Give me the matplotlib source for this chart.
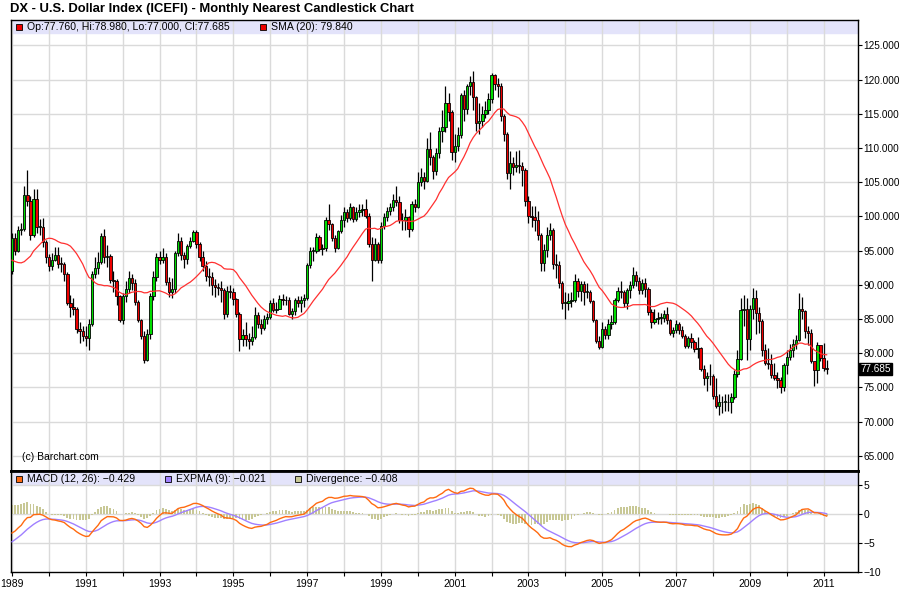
import numpy as np
import matplotlib.pyplot as plt

# monthly history before Jan 1989, only used to seed the SMA / MACD
warmup_close = [
    150.0, 156.0, 146.0, 143.0, 145.0, 141.0, 133.0, 131.0, 125.0, 122.0, 120.0, 118.0,
    115.0, 110.0, 110.0, 106.0, 109.0, 106.0, 102.0, 101.0, 101.0, 101.5, 102.0, 100.5,
    96.5, 96.5, 94.5, 91.8, 93.5, 99.0, 101.0, 99.0, 99.5, 94.0, 89.5, 87.5,
    89.0, 89.0, 87.0, 87.5, 90.0, 94.5, 98.0, 98.5, 97.0, 93.0, 90.0, 92.0,
]

years = list(range(1989, 2012))

closes = [
    96.8, 95.0, 98.0, 98.1, 103.1, 102.2, 97.3, 102.5, 98.4, 98.5, 96.3, 94.0,       # 1989
    92.7, 93.6, 94.4, 93.1, 93.0, 91.6, 87.4, 86.7, 86.5, 83.5, 83.2, 82.5,          # 1990
    82.2, 84.3, 91.6, 92.4, 93.3, 97.1, 94.0, 94.2, 90.7, 90.5, 88.3, 84.8,          # 1991
    88.4, 89.4, 91.0, 90.2, 87.5, 84.8, 82.5, 79.0, 82.8, 88.4, 91.1, 94.0,          # 1992
    93.6, 94.0, 90.4, 89.0, 89.4, 94.7, 96.4, 94.3, 93.7, 95.6, 96.4, 97.7,          # 1993
    96.0, 94.1, 92.8, 91.3, 91.1, 89.9, 89.7, 89.5, 89.2, 85.7, 89.1, 89.0,          # 1994
    87.9, 85.7, 82.0, 82.6, 82.1, 81.7, 82.3, 85.5, 84.2, 83.7, 85.0, 85.3,          # 1995
    87.3, 86.3, 86.5, 87.9, 87.8, 87.7, 85.7, 86.1, 87.7, 87.4, 87.8, 88.0,          # 1996
    92.9, 94.9, 95.0, 97.0, 95.2, 95.4, 99.5, 98.9, 96.9, 95.4, 97.8, 99.5,          # 1997
    100.6, 99.8, 101.3, 99.6, 100.6, 100.9, 101.0, 100.1, 96.0, 93.6, 96.0, 93.6,    # 1998
    98.6, 99.9, 100.8, 101.3, 102.4, 102.1, 99.5, 99.4, 99.9, 98.1, 101.8, 101.4,    # 1999
    105.0, 105.8, 105.2, 109.9, 108.7, 106.6, 109.2, 112.5, 113.0, 116.5, 115.2, 109.4,  # 2000
    110.3, 111.9, 117.7, 115.7, 119.1, 119.6, 117.4, 113.6, 113.9, 115.0, 115.5, 117.2,  # 2001
    120.6, 119.3, 119.0, 114.7, 112.0, 106.4, 107.8, 107.2, 107.5, 107.3, 106.7, 102.3,  # 2002
    100.0, 99.9, 99.4, 97.3, 93.2, 95.1, 97.2, 98.0, 93.1, 92.9, 90.2, 87.3,         # 2003
    87.4, 87.6, 87.8, 90.6, 89.1, 90.1, 88.9, 89.0, 87.6, 84.8, 81.7, 80.9,          # 2004
    83.5, 82.7, 84.2, 84.5, 87.8, 89.1, 88.9, 87.4, 89.3, 89.9, 91.4, 90.6,          # 2005
    89.3, 90.2, 89.4, 86.0, 84.5, 85.0, 85.1, 85.2, 85.7, 84.8, 82.9, 83.4,          # 2006
    84.3, 83.4, 82.5, 81.1, 82.2, 81.6, 80.6, 80.7, 77.7, 76.4, 76.6, 76.6,          # 2007
    73.8, 72.3, 72.8, 72.9, 72.9, 72.8, 73.6, 77.0, 79.2, 86.3, 86.5, 82.1,          # 2008
    86.4, 88.1, 85.9, 84.7, 80.4, 78.5, 78.4, 76.8, 76.4, 76.0, 75.0, 78.2,          # 2009
    79.5, 80.5, 81.3, 81.9, 86.4, 86.2, 83.2, 83.0, 78.9, 77.5, 81.2, 79.3,          # 2010
    77.76, 77.685,                                                                    # 2011
]

highs = [
    97.5, 97.6, 98.6, 99.0, 104.5, 106.7, 103.0, 104.0, 104.0, 99.6, 99.8, 96.6,
    94.5, 94.6, 95.5, 95.5, 94.0, 93.3, 91.8, 88.5, 88.0, 86.8, 84.5, 84.0,
    84.0, 85.0, 92.0, 94.0, 94.8, 97.6, 98.2, 95.8, 94.5, 92.0, 90.8, 88.5,
    88.8, 90.5, 92.0, 91.5, 90.8, 87.8, 85.0, 83.2, 83.5, 88.8, 92.0, 94.6,
    95.0, 95.3, 94.6, 91.2, 91.0, 95.0, 97.5, 97.0, 94.8, 96.0, 97.0, 98.0,
    98.0, 96.2, 95.0, 93.5, 92.5, 91.8, 90.8, 90.2, 90.5, 89.5, 89.8, 90.0,
    89.5, 88.0, 86.0, 83.5, 84.5, 83.0, 84.0, 86.8, 86.0, 85.0, 85.5, 85.8,
    87.8, 88.0, 87.5, 88.5, 88.6, 88.3, 88.2, 86.6, 88.0, 88.3, 88.3, 88.6,
    93.2, 95.5, 95.5, 97.5, 97.2, 96.0, 99.9, 101.8, 99.0, 97.3, 98.0, 100.2,
    101.3, 101.0, 102.0, 101.5, 101.3, 101.8, 101.8, 102.5, 100.5, 97.0, 96.8, 96.3,
    99.2, 100.5, 101.3, 102.0, 103.2, 104.5, 103.0, 100.5, 101.0, 100.0, 102.3, 102.5,
    106.5, 107.0, 106.5, 111.5, 112.3, 109.0, 110.0, 113.0, 115.5, 119.0, 118.0, 115.5,
    112.0, 113.0, 118.0, 118.5, 119.4, 120.5, 121.3, 117.6, 116.5, 116.2, 116.8, 118.0,
    121.0, 120.8, 120.2, 119.5, 115.0, 112.3, 109.5, 108.7, 109.5, 109.7, 108.0, 107.0,
    103.0, 101.5, 101.5, 100.8, 97.6, 96.0, 98.5, 99.0, 98.3, 94.5, 93.5, 90.5,
    89.0, 88.8, 89.0, 91.5, 91.0, 90.5, 90.5, 90.2, 89.3, 87.8, 85.0, 82.5,
    84.5, 84.0, 85.0, 85.5, 88.0, 89.6, 90.6, 89.3, 89.5, 90.6, 92.6, 92.0,
    91.2, 90.8, 91.0, 89.6, 86.5, 86.5, 86.0, 85.8, 86.3, 86.7, 85.0, 83.8,
    84.8, 84.6, 84.0, 82.8, 82.5, 82.9, 81.9, 82.3, 80.9, 78.3, 77.2, 78.4,
    77.0, 76.3, 74.0, 73.8, 74.0, 74.0, 74.2, 77.6, 80.5, 88.0, 88.5, 88.0,
    87.0, 89.5, 89.3, 86.8, 85.0, 81.3, 80.8, 79.8, 78.5, 77.3, 76.5, 78.6,
    80.5, 81.3, 82.0, 82.7, 88.8, 88.2, 86.3, 84.0, 83.5, 78.5, 81.6, 81.0,
    81.5, 78.98,
]

lows = [
    91.5, 94.4, 94.8, 97.2, 97.8, 101.5, 96.6, 97.0, 97.6, 97.2, 95.5, 93.2,
    92.0, 92.2, 93.5, 92.5, 91.8, 90.6, 87.0, 85.3, 85.5, 83.0, 81.5, 81.8,
    81.0, 80.5, 84.0, 91.0, 91.5, 93.0, 93.2, 92.6, 90.2, 89.0, 87.0, 84.5,
    84.3, 87.5, 88.8, 89.2, 87.0, 84.5, 82.0, 78.5, 78.8, 82.0, 87.8, 90.5,
    93.0, 93.2, 90.0, 88.2, 88.0, 88.8, 94.2, 93.6, 92.4, 93.0, 95.3, 96.2,
    95.3, 93.5, 92.0, 90.6, 89.8, 88.5, 88.2, 88.5, 87.5, 85.0, 85.3, 88.0,
    87.0, 85.3, 80.3, 81.0, 81.0, 80.6, 81.2, 82.0, 83.7, 82.8, 83.4, 84.3,
    85.0, 86.0, 85.8, 86.4, 87.1, 87.0, 85.5, 85.0, 85.6, 86.8, 86.0, 86.8,
    87.8, 92.5, 93.5, 94.7, 94.9, 94.3, 95.0, 98.0, 96.4, 94.8, 95.2, 97.6,
    98.5, 99.2, 99.5, 99.2, 99.3, 99.9, 100.0, 99.8, 95.5, 90.6, 93.4, 93.2,
    93.2, 98.2, 99.3, 100.2, 100.8, 101.5, 99.0, 98.0, 98.0, 97.0, 97.8, 100.6,
    101.2, 104.5, 104.0, 105.0, 107.5, 105.5, 106.0, 108.5, 110.8, 112.3, 114.0, 108.3,
    108.0, 109.5, 111.5, 114.0, 115.0, 117.8, 115.5, 112.5, 112.0, 113.0, 114.3, 115.0,
    116.5, 118.5, 117.5, 114.0, 111.0, 105.5, 104.0, 106.0, 106.5, 106.3, 104.5, 101.5,
    99.0, 98.5, 97.8, 96.5, 92.0, 92.0, 94.0, 96.5, 92.3, 91.0, 89.5, 86.5,
    85.0, 86.3, 86.8, 87.5, 88.2, 87.6, 87.0, 88.0, 87.3, 84.5, 81.5, 80.6,
    80.8, 82.0, 82.0, 83.5, 84.3, 87.5, 88.0, 86.8, 86.5, 88.0, 89.5, 89.8,
    88.6, 88.6, 88.2, 85.5, 83.7, 84.2, 84.2, 84.2, 84.5, 84.3, 82.6, 82.3,
    83.0, 82.8, 82.2, 80.8, 80.7, 80.8, 80.1, 79.3, 77.4, 75.3, 74.5, 75.3,
    73.3, 72.0, 71.0, 71.2, 71.6, 71.5, 71.3, 73.3, 76.5, 79.0, 84.0, 79.0,
    80.5, 85.0, 82.8, 83.0, 79.6, 78.3, 77.7, 76.3, 76.0, 74.9, 74.2, 74.5,
    76.9, 79.0, 79.5, 80.6, 81.7, 85.0, 82.2, 81.2, 78.5, 75.2, 75.6, 78.8,
    77.4, 77.0,
]

main_ticks = [65, 70, 75, 80, 85, 90, 95, 100, 105, 110, 115, 120, 125]
macd_ticks = [-10, -5, 0, 5]

title = "DX - U.S. Dollar Index (ICEFI) - Monthly Nearest Candlestick Chart"
ohlc_text = "Op:77.760, Hi:78.980, Lo:77.000, Cl:77.685"
sma_text = "SMA (20): 79.840"
macd_text = "MACD (12, 26): \u22120.429"
signal_text = "EXPMA (9): \u22120.021"
div_text = "Divergence: \u22120.408"
last_text = "77.685"


def ema(values, span):
    alpha = 2.0 / (span + 1)
    out = np.empty(len(values))
    out[0] = values[0]
    for k in range(1, len(values)):
        out[k] = alpha * values[k] + (1 - alpha) * out[k - 1]
    return out


n = len(closes)
full = np.array(warmup_close + closes)
w = len(warmup_close)
opens = np.array(full[w - 1:w - 1 + n])
c = np.array(closes)
h = np.array(highs)
lo = np.array(lows)

sma = np.convolve(full, np.ones(20) / 20, mode="full")[:len(full)][w:]
macd_full = ema(full, 12) - ema(full, 26)
signal_full = ema(macd_full, 9)
macd = macd_full[w:]
signal = signal_full[w:]
div = macd - signal

x = np.arange(n)
xlim = (-0.33, 275.2)

plt.rcParams["font.family"] = ["Liberation Sans", "DejaVu Sans"]
fig = plt.figure(figsize=(9, 6.12), dpi=100)
ax = fig.add_axes([11 / 900, 1 - 470.5 / 612, 847 / 900, 450.5 / 612])
ax2 = fig.add_axes([11 / 900, 1 - 572 / 612, 847 / 900, 101.5 / 612])

grid_col = "#dadada"
band_col = "#e3e3fa"

# main panel
ax.set_xlim(*xlim)
ax.set_ylim(62.84, 128.7)
ax.axhspan(126.8, 128.7, color=band_col, zorder=0)
for v in main_ticks:
    ax.axhline(v, color=grid_col, lw=1, zorder=1)
for k in range(len(years)):
    ax.axvline(12 * k, color=grid_col, lw=1, zorder=1)

up = c >= opens
body_lo = np.minimum(opens, c)
body_h = np.maximum(np.abs(c - opens), 0.12)
ax.vlines(x, lo, h, color="black", lw=0.9, zorder=2)
ax.bar(x, body_h, bottom=body_lo, width=0.75,
       color=np.where(up, "#00dd00", "#ee0000"),
       edgecolor="black", linewidth=0.6, zorder=3)
ax.plot(x, sma, color="#ff3030", lw=0.9, zorder=4)

ax.yaxis.tick_right()
ax.set_yticks(main_ticks)
ax.set_yticklabels([f"{v:.3f}" for v in main_ticks])
ax.set_xticks([])
ax.tick_params(axis="y", length=3, labelsize=7.2, pad=1)
for s in ax.spines.values():
    s.set_linewidth(1)
ax.spines["bottom"].set_linewidth(2)

ax.plot(0.0094, 0.9845, "s", ms=5, mfc="#ee0000", mec="black", mew=0.6,
        transform=ax.transAxes, clip_on=False, zorder=6)
ax.text(0.0185, 0.9845, ohlc_text, transform=ax.transAxes, fontsize=7.6,
        va="center", ha="left")
ax.plot(0.2975, 0.9845, "s", ms=5, mfc="#ee0000", mec="black", mew=0.6,
        transform=ax.transAxes, clip_on=False, zorder=6)
ax.text(0.3066, 0.9845, sma_text, transform=ax.transAxes, fontsize=7.6,
        va="center", ha="left")
ax.text(0.013, 0.03, "(c) Barchart.com", transform=ax.transAxes, fontsize=7.5,
        va="center", ha="left")
ax.annotate(last_text, xy=(1.003, c[-1]), xycoords=("axes fraction", "data"),
            fontsize=7.2, color="white", va="center", ha="left",
            bbox=dict(boxstyle="square,pad=0.12", fc="black", ec="black"))

# MACD panel
ax2.set_xlim(*xlim)
ax2.set_ylim(-10.05, 7.51)
ax2.axhspan(5.17, 7.51, color=band_col, zorder=0)
for v in [-5, 0, 5]:
    ax2.axhline(v, color=grid_col, lw=1, zorder=1)
for k in range(len(years)):
    ax2.axvline(12 * k, color=grid_col, lw=1, zorder=1)
ax2.bar(x, div, width=0.6, color="#c8c896", zorder=2)
ax2.plot(x, signal, color="#a080ff", lw=1, zorder=3)
ax2.plot(x, macd, color="#ff6a10", lw=1, zorder=4)

ax2.yaxis.tick_right()
ax2.set_yticks(macd_ticks)
ax2.set_yticklabels([str(v).replace("-", "\u2212") for v in macd_ticks])
ax2.set_xticks([12 * k for k in range(len(years))])
ax2.set_xticklabels([str(y) if (y - 1989) % 2 == 0 else "" for y in years])
ax2.tick_params(axis="both", length=3, labelsize=7.5, pad=2)
ax2.tick_params(axis="y", pad=1)
for s in ax2.spines.values():
    s.set_linewidth(1)
ax2.spines["top"].set_linewidth(2)

leg_y = 0.916
for xm, xt, col, txt in [(0.0094, 0.0185, "#ff6a10", macd_text),
                         (0.1854, 0.1945, "#a080ff", signal_text),
                         (0.3388, 0.3480, "#c8c896", div_text)]:
    ax2.plot(xm, leg_y, "s", ms=5, mfc=col, mec="black", mew=0.6,
             transform=ax2.transAxes, clip_on=False, zorder=6)
    ax2.text(xt, leg_y, txt, transform=ax2.transAxes, fontsize=7.6,
             va="center", ha="left")

fig.text(10 / 900, 1 - 9 / 612, title, fontsize=9.4, fontweight="bold",
         va="center", ha="left")

fig.savefig("out.png", dpi=100)
